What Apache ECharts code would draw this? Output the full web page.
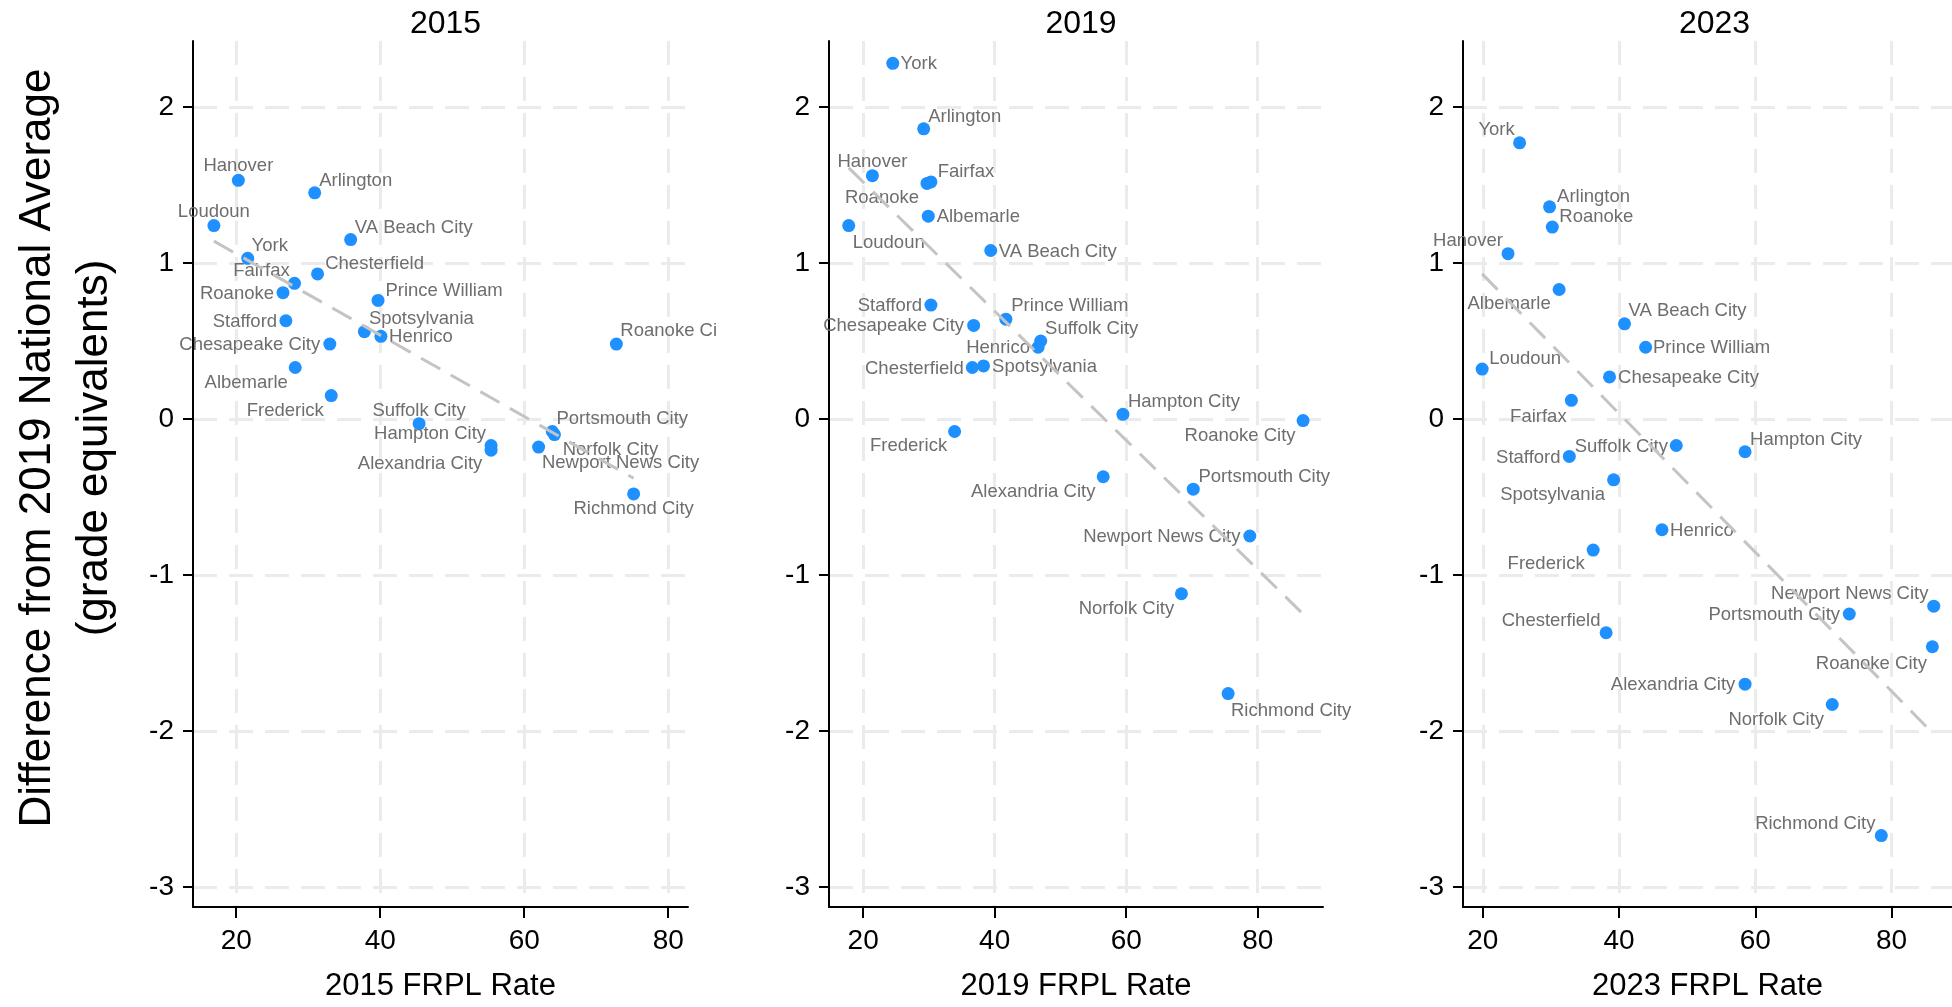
<!DOCTYPE html>
<html>
<head>
<meta charset="utf-8">
<script src="https://cdn.jsdelivr.net/npm/echarts@6/dist/echarts.min.js"></script>
<style>
html, body { margin: 0; padding: 0; background: #fff; }
#chart { width: 1952px; height: 1007px; }
</style>
</head>
<body>
<div id="chart"></div>
<script>
// ---- data ----
var years = ['2015', '2019', '2023'];

var names2015 = ['Hanover', 'Arlington', 'Loudoun', 'VA Beach City', 'York', 'Chesterfield', 'Fairfax', 'Roanoke',
  'Prince William', 'Stafford', 'Spotsylvania', 'Henrico', 'Chesapeake City', 'Roanoke City', 'Albemarle', 'Frederick',
  'Suffolk City', 'Portsmouth City', 'Norfolk City', 'Hampton City', 'Alexandria City', 'Newport News City', 'Richmond City'];
var frpl2015 = [20.3, 30.9, 16.9, 35.9, 21.6, 31.3, 28.1, 26.5, 39.7, 26.9, 37.8, 40.1, 33.0, 72.8, 28.2, 33.2,
  45.4, 63.9, 64.2, 55.4, 55.4, 62.0, 75.2];
var diff2015 = [1.53, 1.45, 1.24, 1.15, 1.03, 0.93, 0.87, 0.81, 0.76, 0.63, 0.56, 0.53, 0.48, 0.48, 0.33, 0.15,
  -0.03, -0.08, -0.10, -0.17, -0.20, -0.18, -0.48];

var names2019 = ['York', 'Arlington', 'Hanover', 'Roanoke', 'Fairfax', 'Albemarle', 'Loudoun', 'VA Beach City',
  'Stafford', 'Prince William', 'Chesapeake City', 'Suffolk City', 'Henrico', 'Chesterfield', 'Spotsylvania',
  'Hampton City', 'Roanoke City', 'Frederick', 'Alexandria City', 'Portsmouth City', 'Newport News City',
  'Norfolk City', 'Richmond City'];
var frpl2019 = [24.5, 29.2, 21.4, 29.7, 30.3, 29.9, 17.8, 39.4, 30.3, 41.7, 36.8, 47.0, 46.6, 36.6, 38.3,
  59.5, 86.9, 33.9, 56.5, 70.2, 78.8, 68.4, 75.5];
var diff2019 = [2.28, 1.86, 1.56, 1.51, 1.52, 1.30, 1.24, 1.08, 0.73, 0.64, 0.60, 0.50, 0.46, 0.33, 0.34,
  0.03, -0.01, -0.08, -0.37, -0.45, -0.75, -1.12, -1.76];

var names2023 = ['York', 'Arlington', 'Roanoke', 'Hanover', 'Albemarle', 'VA Beach City', 'Prince William', 'Loudoun',
  'Chesapeake City', 'Fairfax', 'Suffolk City', 'Hampton City', 'Stafford', 'Spotsylvania', 'Henrico', 'Frederick',
  'Newport News City', 'Portsmouth City', 'Chesterfield', 'Roanoke City', 'Alexandria City', 'Norfolk City',
  'Richmond City'];
var frpl2023 = [25.4, 29.8, 30.2, 23.7, 31.2, 40.8, 43.9, 19.9, 38.6, 33.0, 48.4, 58.5, 32.7, 39.2, 46.3, 36.2,
  86.2, 73.8, 38.1, 86.0, 58.5, 71.3, 78.5];
var diff2023 = [1.77, 1.36, 1.23, 1.06, 0.83, 0.61, 0.46, 0.32, 0.27, 0.12, -0.17, -0.21, -0.24, -0.39, -0.71, -0.84,
  -1.20, -1.25, -1.37, -1.46, -1.70, -1.83, -2.67];

// dashed fit line ends
var trendX2015 = [16.9, 75.2], trendY2015 = [1.14, -0.38];
var trendX2019 = [17.8, 86.9], trendY2019 = [1.61, -1.25];
var trendX2023 = [19.9, 85.3], trendY2023 = [0.93, -1.98];

var xTicks = [20, 40, 60, 80];
var yTicks = [-3, -2, -1, 0, 1, 2];

// ---- label placement (ggrepel-like), offsets from point centre in px ----
var pos2015 = {
  'Hanover': [0, -14], 'Arlington': [41, -12], 'Loudoun': [0, -14], 'VA Beach City': [63, -12],
  'York': [22, -12], 'Chesterfield': [57, -10], 'Fairfax': [-33, -12], 'Roanoke': [-46, 1],
  'Prince William': [66, -10], 'Stafford': [-41, 1], 'Spotsylvania': [57, -13], 'Henrico': [40, 1],
  'Chesapeake City': [-80, 1], 'Roanoke City': [4, -13, 'left'], 'Albemarle': [-49, 15], 'Frederick': [-46, 15],
  'Suffolk City': [0, -13], 'Hampton City': [-61, -12], 'Alexandria City': [-71, 14], 'Portsmouth City': [70, -13],
  'Norfolk City': [56, 15], 'Newport News City': [82, 16], 'Richmond City': [0, 15]
};
var pos2019 = {
  'York': [26, 1], 'Arlington': [41, -12], 'Hanover': [0, -14], 'Fairfax': [35, -10], 'Roanoke': [-45, 14],
  'Albemarle': [50, 1], 'Loudoun': [40, 17], 'VA Beach City': [67, 1], 'Stafford': [-41, 1],
  'Prince William': [64, -13], 'Chesapeake City': [-80, 1], 'Suffolk City': [51, -12], 'Henrico': [-40, 1],
  'Chesterfield': [-58, 1], 'Spotsylvania': [61, 1], 'Hampton City': [61, -12], 'Roanoke City': [-63, 15],
  'Frederick': [-46, 14], 'Alexandria City': [-70, 15], 'Portsmouth City': [71, -12],
  'Newport News City': [-88, 1], 'Norfolk City': [-55, 15], 'Richmond City': [63, 17]
};
var pos2023 = {
  'York': [-23, -13], 'Arlington': [44, -10], 'Roanoke': [44, -10], 'Hanover': [-40, -13], 'Albemarle': [-50, 14],
  'VA Beach City': [63, -13], 'Prince William': [66, 1], 'Loudoun': [43, -10], 'Chesapeake City': [79, 1],
  'Fairfax': [-33, 17], 'Suffolk City': [-55, 1], 'Hampton City': [61, -12], 'Stafford': [-41, 1],
  'Spotsylvania': [-61, 15], 'Henrico': [40, 1], 'Frederick': [-47, 14], 'Newport News City': [-84, -12],
  'Portsmouth City': [-75, 1], 'Chesterfield': [-55, -12], 'Roanoke City': [-61, 17], 'Alexandria City': [-72, 1],
  'Norfolk City': [-56, 15], 'Richmond City': [-66, -12]
};

var chart = echarts.init(document.getElementById('chart'));
var font = 'Liberation Sans, Arial, sans-serif';

var panels = [
  { names: names2015, x: frpl2015, y: diff2015, tx: trendX2015, ty: trendY2015, pos: pos2015,
    left: 193, width: 495, min: 14.0, max: 82.75 },
  { names: names2019, x: frpl2019, y: diff2019, tx: trendX2019, ty: trendY2019, pos: pos2019,
    left: 829, width: 494, min: 14.8, max: 89.93 },
  { names: names2023, x: frpl2023, y: diff2023, tx: trendX2023, ty: trendY2023, pos: pos2023,
    left: 1463, width: 493, min: 17.09, max: 88.88 }
];

var grids = [], xAxes = [], yAxes = [], series = [], titles = [];
var gridLine = { show: true, lineStyle: { color: '#ebebeb', width: 3, type: [24, 12] } };

panels.forEach(function (p, i) {
  grids.push({ left: p.left, top: 41, width: p.width, height: 869 });
  titles.push({
    text: years[i], left: p.left + p.width / 2, top: 3, textAlign: 'center',
    textStyle: { fontSize: 32, fontWeight: 'normal', color: '#000', fontFamily: font }
  });
  xAxes.push({
    gridIndex: i, type: 'value', min: p.min, max: p.max,
    name: years[i] + ' FRPL Rate', nameLocation: 'middle', nameGap: 64,
    nameTextStyle: { fontSize: 31, color: '#000', fontFamily: font },
    axisLine: { onZero: false, lineStyle: { color: '#000', width: 2 } },
    axisTick: { customValues: xTicks, length: 11, lineStyle: { color: '#000', width: 2 } },
    axisLabel: { customValues: xTicks, fontSize: 28, color: '#000', margin: 20, fontFamily: font },
    splitLine: gridLine
  });
  yAxes.push({
    gridIndex: i, type: 'value', min: -3.128, max: 2.423,
    axisLine: { onZero: false, lineStyle: { color: '#000', width: 2 } },
    axisTick: { customValues: yTicks, length: 10, lineStyle: { color: '#000', width: 2 } },
    axisLabel: { customValues: yTicks, fontSize: 28, color: '#000', margin: 19, fontFamily: font },
    splitLine: gridLine
  });

  series.push({
    type: 'line', xAxisIndex: i, yAxisIndex: i, symbol: 'none', silent: true,
    data: p.tx.map(function (v, k) { return [v, p.ty[k]]; }),
    lineStyle: { color: '#c4c4c4', width: 3, type: [22, 12] }
  });

  series.push({
    type: 'scatter', xAxisIndex: i, yAxisIndex: i, symbolSize: 13,
    itemStyle: { color: '#1E90FF', opacity: 1 },
    label: {
      show: true, position: 'inside', formatter: '{b}', fontSize: 18.5, color: '#6e6e6e',
      fontFamily: font, align: 'center', verticalAlign: 'middle'
    },
    data: p.names.map(function (n, k) {
      var o = p.pos[n] || [0, -14];
      var lab = { offset: [o[0], o[1]] };
      if (o[2] === 'left') {
        // cut off at the panel edge, as in the source figure
        lab.align = 'left';
        lab.width = 101;
        lab.overflow = 'truncate';
        lab.ellipsis = '';
      }
      return { name: n, value: [p.x[k], p.y[k]], label: lab };
    })
  });
});

chart.setOption({
  backgroundColor: '#fff',
  animation: false,
  textStyle: { fontFamily: font },
  title: titles,
  grid: grids,
  xAxis: xAxes,
  yAxis: yAxes,
  series: series,
  graphic: [{
    type: 'text', x: 66, y: 448, rotation: Math.PI / 2,
    style: {
      text: 'Difference from 2019 National Average\n(grade equivalents)',
      fontSize: 44, lineHeight: 57, fill: '#000', fontFamily: font,
      align: 'center', verticalAlign: 'middle'
    }
  }]
});
</script>
</body>
</html>
